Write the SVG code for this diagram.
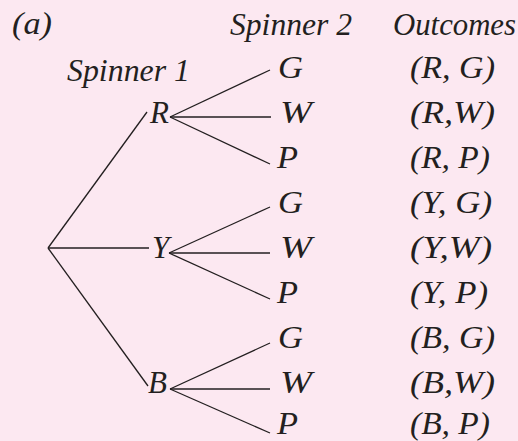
<svg xmlns="http://www.w3.org/2000/svg" width="518" height="441" viewBox="0 0 518 441">
<style>
text{font-family:"Liberation Serif","Times New Roman",serif;font-style:italic;font-size:31px;fill:#231f20}
.c line{stroke:#231f20;stroke-width:1.3;fill:none}
</style>
<rect width="518" height="441" fill="#fce8f1"/>
<g id="headers">
<text x="12" y="34" textLength="40" lengthAdjust="spacingAndGlyphs">(a)</text>
<text x="230" y="35" textLength="122" lengthAdjust="spacingAndGlyphs">Spinner 2</text>
<text x="393" y="35" textLength="123" lengthAdjust="spacingAndGlyphs">Outcomes</text>
<text x="67" y="81" textLength="123" lengthAdjust="spacingAndGlyphs">Spinner 1</text>
</g>
<g class="c" id="connectors">
<line x1="48" y1="248" x2="147" y2="112"/>
<line x1="48" y1="248" x2="149" y2="248"/>
<line x1="48" y1="248" x2="148" y2="386"/>
<line x1="170" y1="117" x2="270" y2="70"/>
<line x1="170" y1="117" x2="271" y2="117"/>
<line x1="170" y1="117" x2="270" y2="164"/>
<line x1="169" y1="253" x2="270" y2="207"/>
<line x1="169" y1="253" x2="270" y2="253"/>
<line x1="169" y1="253" x2="270" y2="299"/>
<line x1="170" y1="389" x2="270" y2="343"/>
<line x1="170" y1="389" x2="270" y2="389"/>
<line x1="170" y1="389" x2="270" y2="433"/>
</g>
<g id="s1-R"><text x="150" y="123">R</text></g>
<g id="s1-Y"><text x="152" y="258">Y</text></g>
<g id="s1-B"><text x="148" y="393">B</text></g>
<g id="RG"><text x="278" y="78" textLength="25" lengthAdjust="spacingAndGlyphs">G</text><text x="410" y="78" textLength="85" lengthAdjust="spacingAndGlyphs">(R, G)</text></g>
<g id="RW"><text x="280" y="123" textLength="32" lengthAdjust="spacingAndGlyphs">W</text><text x="410" y="123" textLength="85" lengthAdjust="spacingAndGlyphs">(R,W)</text></g>
<g id="RP"><text x="277" y="168" textLength="21" lengthAdjust="spacingAndGlyphs">P</text><text x="410" y="168" textLength="80" lengthAdjust="spacingAndGlyphs">(R, P)</text></g>
<g id="YG"><text x="278" y="213" textLength="25" lengthAdjust="spacingAndGlyphs">G</text><text x="410" y="213" textLength="82" lengthAdjust="spacingAndGlyphs">(Y, G)</text></g>
<g id="YW"><text x="280" y="258" textLength="32" lengthAdjust="spacingAndGlyphs">W</text><text x="410" y="258" textLength="82" lengthAdjust="spacingAndGlyphs">(Y,W)</text></g>
<g id="YP"><text x="277" y="303" textLength="21" lengthAdjust="spacingAndGlyphs">P</text><text x="410" y="303" textLength="78" lengthAdjust="spacingAndGlyphs">(Y, P)</text></g>
<g id="BG"><text x="278" y="348" textLength="25" lengthAdjust="spacingAndGlyphs">G</text><text x="410" y="348" textLength="85" lengthAdjust="spacingAndGlyphs">(B, G)</text></g>
<g id="BW"><text x="280" y="393" textLength="32" lengthAdjust="spacingAndGlyphs">W</text><text x="410" y="393" textLength="85" lengthAdjust="spacingAndGlyphs">(B,W)</text></g>
<g id="BP"><text x="277" y="434" textLength="21" lengthAdjust="spacingAndGlyphs">P</text><text x="410" y="434" textLength="80" lengthAdjust="spacingAndGlyphs">(B, P)</text></g>
</svg>
